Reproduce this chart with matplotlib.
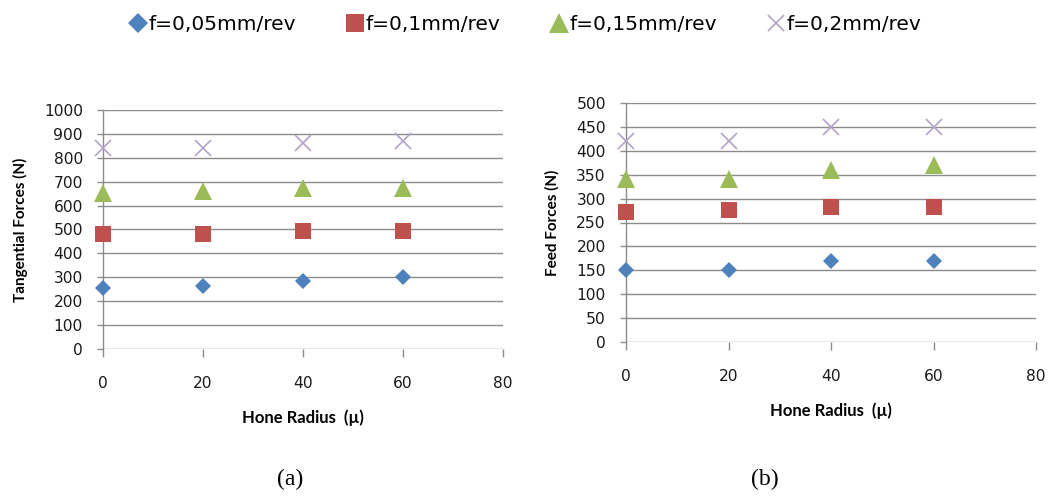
import matplotlib
matplotlib.use("Agg")
import matplotlib.pyplot as plt
from matplotlib.lines import Line2D

# Hone radius (µ) and measured forces for each feed rate
hone_radius = [0, 20, 40, 60]
feed_labels = ["f=0,05mm/rev", "f=0,1mm/rev", "f=0,15mm/rev", "f=0,2mm/rev"]

tangential_f005 = [255, 262, 285, 300]
tangential_f01 = [480, 480, 492, 492]
tangential_f015 = [652, 662, 675, 675]
tangential_f02 = [840, 840, 860, 870]

feed_f005 = [150, 150, 170, 170]
feed_f01 = [272, 277, 282, 282]
feed_f015 = [340, 340, 360, 370]
feed_f02 = [420, 420, 450, 450]

colors = ["#4F81BD", "#C0504D", "#9BBB59", "#B3A2C7"]
markers = ["D", "s", "^", "x"]
plot_sizes = [8.5, 11, 12.5, 11]
legend_sizes = [10, 12.5, 14, 12]

W, H = 1051, 496
fig = plt.figure(figsize=(W / 100, H / 100), dpi=100)
fig.patch.set_facecolor("white")

tick_family = ["DejaVu Sans"]
xlabel_font = {"family": ["Lato", "DejaVu Sans"], "size": 12, "weight": "bold"}
ylabel_font = {"family": ["Lato", "DejaVu Sans"], "size": 11, "weight": "bold"}


def marker_style(m, c, s):
    if m == "x":
        return dict(linestyle="none", marker=m, color=c, markersize=s,
                    markeredgewidth=1.2)
    return dict(linestyle="none", marker=m, color=c, markersize=s,
                markeredgewidth=0)


def make_axes(rect_px, series, ymax, ystep, ylabel, ylabel_x):
    x0, y_top, x1, y_bot = rect_px
    ax = fig.add_axes([x0 / W, (H - y_bot) / H, (x1 - x0) / W, (y_bot - y_top) / H])
    for vals, c, m, s in zip(series, colors, markers, plot_sizes):
        ax.plot(hone_radius, vals, clip_on=False, zorder=3, **marker_style(m, c, s))
    ax.set_xlim(0, 80)
    ax.set_ylim(0, ymax)
    ax.set_xticks(range(0, 81, 20))
    ax.set_yticks(range(0, ymax + 1, ystep))
    ax.grid(axis="y", color="#8C8C8C", linewidth=1.0)
    ax.set_axisbelow(True)
    for side in ["top", "right", "bottom"]:
        ax.spines[side].set_visible(False)
    ax.spines["left"].set_color("#8C8C8C")
    ax.spines["left"].set_linewidth(1.0)
    ax.tick_params(axis="x", length=6, width=1.0, color="#8C8C8C", pad=13.5)
    ax.tick_params(axis="y", length=4.5, width=1.0, color="#8C8C8C", pad=10)
    for lab in ax.get_xticklabels() + ax.get_yticklabels():
        lab.set_fontfamily(tick_family)
        lab.set_fontsize(11.2)
        lab.set_color("#1A1A1A")
    ax.set_xlabel("Hone Radius  (µ)", fontdict=xlabel_font, labelpad=13)
    ax.set_ylabel(ylabel, fontdict=ylabel_font)
    ax.yaxis.set_label_coords(ylabel_x, 0.5)
    return ax


make_axes((103, 110, 503, 349),
          [tangential_f005, tangential_f01, tangential_f015, tangential_f02],
          1000, 100, "Tangential Forces (N)", (28 - 103) / 400)
make_axes((626, 103, 1036, 342),
          [feed_f005, feed_f01, feed_f015, feed_f02],
          500, 50, "Feed Forces (N)", (560 - 626) / 410)

# Shared legend along the top
handles = [Line2D([], [], **marker_style(m, c, s))
           for c, m, s in zip(colors, markers, legend_sizes)]
fig.legend(handles, feed_labels, loc="center", bbox_to_anchor=(525 / W, 1 - 25 / H),
           ncol=4, frameon=False, handlelength=0.9, handletextpad=0.1,
           columnspacing=2.45, borderpad=0,
           prop={"family": ["DejaVu Sans"], "size": 14.5})

# Panel captions
fig.text(290 / W, 1 - 479 / H, "(a)", ha="center", va="center",
         family=["Liberation Serif", "DejaVu Serif"], fontsize=17)
fig.text(765 / W, 1 - 479 / H, "(b)", ha="center", va="center",
         family=["Liberation Serif", "DejaVu Serif"], fontsize=17)

fig.savefig("out.png", dpi=100, facecolor="white")
